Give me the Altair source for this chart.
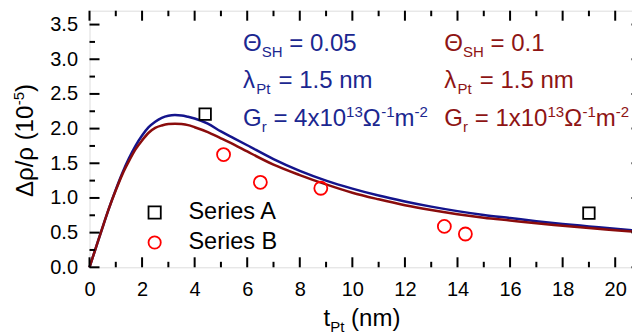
import altair as alt
import pandas as pd

FONT = "Liberation Sans"
BLUE = "#14148c"
RED = "#8a0c0c"
TBLUE = "#1b2790"
TRED = "#8e1414"
W, H = 552, 256.6
XMAX, YMAX = 21, 3.7

# ---- data ----
t_fit = [0, 0.25, 0.5, 0.75, 1.0, 1.25, 1.5, 1.75, 2.0, 2.25, 2.5, 2.75, 3.0, 3.25, 3.5, 3.75, 4.0,
         4.5, 5.0, 5.5, 6.0, 7, 8, 9, 10, 11, 12, 13, 14, 15, 16, 17, 18, 19, 20, 21]
fit_blue = [0, 0.29, 0.58, 0.86, 1.12, 1.36, 1.57, 1.75, 1.90, 2.02, 2.10, 2.155, 2.185, 2.195, 2.19, 2.17, 2.145,
            2.07, 1.96, 1.86, 1.76, 1.56, 1.39, 1.25, 1.135, 1.035, 0.95, 0.875, 0.81, 0.755, 0.71, 0.665, 0.625,
            0.59, 0.555, 0.525]
fit_red = [0, 0.29, 0.58, 0.86, 1.11, 1.34, 1.53, 1.70, 1.83, 1.94, 2.01, 2.045, 2.065, 2.07, 2.065, 2.05, 2.02,
           1.95, 1.86, 1.77, 1.67, 1.48, 1.33, 1.195, 1.075, 0.98, 0.895, 0.825, 0.765, 0.715, 0.675, 0.635, 0.60,
           0.565, 0.535, 0.505]

series_names = ["Series A", "Series B"]
a_t = [4.4, 19.0]
a_v = [2.21, 0.78]
b_t = [5.1, 6.5, 8.8, 13.5, 14.3]
b_v = [1.625, 1.225, 1.14, 0.59, 0.48]

x_major = [0, 2, 4, 6, 8, 10, 12, 14, 16, 18, 20]
x_minor = [1, 3, 5, 7, 9, 11, 13, 15, 17, 19, 21]
y_major = [0, 0.5, 1.0, 1.5, 2.0, 2.5, 3.0, 3.5]
y_minor = [0.25, 0.75, 1.25, 1.75, 2.25, 2.75, 3.25]

ann_blue = [["Θ", "SH", "= 0.05"], ["λ", "Pt", "= 1.5 nm"],
            ["G", "r", "= 4x10", "13", "Ω", "-1", "m", "-2"]]
ann_red = [["Θ", "SH", "= 0.1"], ["λ", "Pt", "= 1.5 nm"],
           ["G", "r", "= 1x10", "13", "Ω", "-1", "m", "-2"]]
ytitle = ["Δρ/ρ (10", "-5", ")"]
xtitle = ["t", "Pt", "(nm)"]

# ---- layout ----
ROLES = [["main", "sub", "main"], ["main", "sub", "main"],
         ["main", "sub", "main", "sup", "main", "sup", "main", "sup"]]
OFFS = [[0, 18.7, 46.2], [0, 13.2, 35.5], [0, 18.7, 30.4, 103.1, 119.8, 138.2, 151.5, 171.5]]
BASE = [3.119, 2.585, 2.037]
DY = {"main": 0, "sub": 6, "sup": -9}
FS = {"main": 24, "sub": 15, "sup": 15}

xs = alt.Scale(domain=[0, XMAX], nice=False, zero=False)
ys = alt.Scale(domain=[0, YMAX], nice=False, zero=False)
xaxis = alt.Axis(values=x_major, title=None, grid=False, ticks=False, domain=False, labelFontSize=20,
                 labelFont=FONT, labelColor="black", labelPadding=12, labelFlush=False, labelOverlap=False)
yaxis = alt.Axis(values=y_major, format=".1f", title=None, grid=False, ticks=False, domain=False,
                 labelFontSize=20, labelFont=FONT, labelColor="black", labelPadding=12, labelOverlap=False)
X = alt.X("t:Q", scale=xs, axis=xaxis)
Y = alt.Y("v:Q", scale=ys, axis=yaxis)

fit_b = pd.DataFrame({"t": t_fit, "v": fit_blue})
fit_r = pd.DataFrame({"t": t_fit, "v": fit_red})
line_b = alt.Chart(fit_b).mark_line(color=BLUE, strokeWidth=2.5, interpolate="monotone").encode(x=X, y=Y)
line_r = alt.Chart(fit_r).mark_line(color=RED, strokeWidth=2.5, interpolate="monotone").encode(x=X, y=Y)

leg = alt.Legend(title=None, orient="none", legendX=53.4, legendY=190, labelFontSize=23.5, labelFont=FONT,
                 labelColor="black", symbolSize=150, symbolStrokeWidth=1.8, rowPadding=5, labelOffset=22,
                 padding=0)
shape_enc = alt.Shape("series:N", scale=alt.Scale(domain=series_names, range=["square", "circle"]), legend=leg)
color_enc = alt.Color("series:N", scale=alt.Scale(domain=series_names, range=["#000000", "#ff0000"]), legend=leg)

pa = pd.DataFrame({"t": a_t, "v": a_v, "series": series_names[0]})
pb = pd.DataFrame({"t": b_t, "v": b_v, "series": series_names[1]})
pts_a = alt.Chart(pa).mark_point(filled=False, size=132, strokeWidth=1.8, opacity=1).encode(
    x=X, y=Y, shape=shape_enc, color=color_enc)
pts_b = alt.Chart(pb).mark_point(filled=False, size=169, strokeWidth=1.8, opacity=1).encode(
    x=X, y=Y, shape=shape_enc, color=color_enc)


def xticks(vals, length, top):
    y1 = 0 if top else H
    y2 = length if top else H - length
    return alt.Chart(pd.DataFrame({"t": vals})).mark_rule(color="black", strokeWidth=2).encode(
        x=X, y=alt.value(y1), y2=alt.value(y2))


def yticks(vals, length, right):
    x1 = W if right else 0
    x2 = W - length if right else length
    return alt.Chart(pd.DataFrame({"v": vals})).mark_rule(color="black", strokeWidth=2).encode(
        y=Y, x=alt.value(x1), x2=alt.value(x2))


ticks = [xticks(x_major, 10, False), xticks(x_minor, 5.5, False), xticks(x_major, 10, True),
         xticks(x_minor, 5.5, True), yticks(y_major, 10, False), yticks(y_minor, 5.5, False),
         yticks(y_major, 10, True), yticks(y_minor, 5.5, True)]


def ann_layer(lines, x0, color):
    rows = []
    for li, segs in enumerate(lines):
        for si, txt in enumerate(segs):
            role = ROLES[li][si]
            rows.append({"t": x0 + OFFS[li][si] * XMAX / W,
                         "v": BASE[li] - DY[role] * YMAX / H,
                         "txt": txt, "fs": FS[role]})
    return alt.Chart(pd.DataFrame(rows)).mark_text(align="left", baseline="alphabetic", font=FONT,
                                                    color=color).encode(
        x=X, y=Y, text="txt:N", size=alt.Size("fs:Q", scale=None, legend=None))


ann_b = ann_layer(ann_blue, 5.84, TBLUE)
ann_r = ann_layer(ann_red, 13.50, TRED)

one = pd.DataFrame({"k": [0]})
# y title (rotated)
yt_x, yt_y = -56.5, 186.3
ytitle_layers = [
    alt.Chart(one).mark_text(text=ytitle[0], angle=270, align="left", baseline="alphabetic", font=FONT,
                             fontSize=24, color="black").encode(x=alt.value(yt_x), y=alt.value(yt_y)),
    alt.Chart(one).mark_text(text=ytitle[1], angle=270, align="left", baseline="alphabetic", font=FONT,
                             fontSize=15, color="black", dx=91.8, dy=-9).encode(x=alt.value(yt_x), y=alt.value(yt_y)),
    alt.Chart(one).mark_text(text=ytitle[2], angle=270, align="left", baseline="alphabetic", font=FONT,
                             fontSize=24, color="black", dx=105.1).encode(x=alt.value(yt_x), y=alt.value(yt_y)),
]
xt_x, xt_y = 234.0, 315.3
xtitle_layers = [
    alt.Chart(one).mark_text(text=xtitle[0], align="left", baseline="alphabetic", font=FONT,
                             fontSize=24, color="black").encode(x=alt.value(xt_x), y=alt.value(xt_y)),
    alt.Chart(one).mark_text(text=xtitle[1], align="left", baseline="alphabetic", font=FONT,
                             fontSize=15, color="black", dx=6.7, dy=6).encode(x=alt.value(xt_x), y=alt.value(xt_y)),
    alt.Chart(one).mark_text(text=xtitle[2], align="left", baseline="alphabetic", font=FONT,
                             fontSize=24, color="black", dx=27.6).encode(x=alt.value(xt_x), y=alt.value(xt_y)),
]

chart = alt.layer(line_b, line_r, *ticks, pts_a, pts_b, ann_b, ann_r, *ytitle_layers, *xtitle_layers).properties(
    width=W, height=H,
    autosize=alt.AutoSizeParams(type="none"),
    padding={"left": 81.5, "top": 2.7, "right": -10, "bottom": 72},
).configure_view(stroke="black", strokeWidth=2.5).configure(background="white")

chart.save("out.html", embed_options={"renderer": "svg", "actions": False})
